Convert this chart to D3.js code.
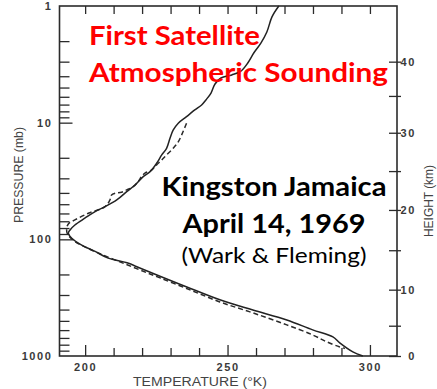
<!DOCTYPE html>
<html>
<head>
<meta charset="utf-8">
<script src="https://cdn.jsdelivr.net/npm/d3@7"></script>
<style>
	body { margin: 0; background: #fff; }
	svg { display: block; }
</style>
</head>
<body>
<svg id="body" width="437" height="389"></svg>
<script>
// radiosonde / rocket sounding (solid line), temperature in K vs pressure in mb
let obsTemp = [268.0, 265.6, 263.8, 261.7, 259.2, 257.1, 254.7, 251.5, 247.7, 245.6, 244.2, 242.4,
	240.9, 238.5, 235.6, 232.7, 230.9, 229.8, 228.6, 226.9, 225.1, 222.8, 220.4, 217.5, 214.6, 211.1,
	207.0, 203.5, 199.9, 196.4, 194.7, 194.1, 195.3, 198.8, 203.5, 208.1, 214.7, 219.2, 225.2, 235.7,
	247.3, 258.9, 270.8, 279.9, 287.0, 289.4, 294.0, 297.5]
let obsPres = [1.0, 1.24, 1.67, 2.08, 2.53, 3.08, 3.61, 3.90, 4.14, 4.66, 5.57, 6.39,
	7.05, 7.78, 8.88, 10.1, 11.6, 13.6, 16.6, 18.9, 22.3, 26.3, 29.0, 34.2, 39.0, 46.0,
	52.5, 57.9, 65.9, 75.3, 83.1, 88.7, 97.9, 112, 127, 145, 159, 176, 202, 256,
	330, 403, 491, 597, 686, 772, 922, 1000]

// satellite (SIRS) retrieval (dashed line)
let satTemp = [235.6, 234.4, 232.7, 230.9, 228.6, 226.9, 225.1, 223.4, 221.0, 219.8, 218.6, 216.9,
	214.6, 212.8, 210.5, 209.3, 208.7, 207.0, 201.1, 196.4, 194.1, 193.5, 193.8, 196.1, 199.9, 205.2,
	212.2, 219.2, 226.3, 236.8, 247.3, 258.9, 270.8, 279.9, 284.9, 289.4, 291.2]
let satPres = [10.1, 11.9, 14.6, 16.6, 18.9, 20.9, 23.0, 25.4, 27.1, 29.0, 32.0, 35.4,
	37.7, 39.5, 40.3, 41.6, 46.0, 52.5, 59.8, 68.2, 73.8, 81.4, 89.9, 103, 116, 133,
	156, 183, 214, 271, 344, 427, 541, 660, 757, 836, 861]

// axis ticks
let presTicks = [2, 3, 4, 5, 6, 7, 8, 9, 20, 30, 40, 50, 60, 70, 80, 90, 200, 300, 400, 500, 600, 700, 800, 900]
let presLabels = [1, 10, 100, 1000]
let tempTicks = [200, 210, 220, 230, 240, 250, 260, 270, 280, 290, 300]
let tempLabels = [200, 250, 300]
let heightKm = [0, 5, 10, 15, 20, 25, 30, 35, 40]
let heightPres = [1000, 550, 270, 124, 56, 26, 12.2, 5.9, 3.0]
let heightLabels = [0, 10, 20, 30, 40]

let svg = d3.select("#body")

//plot box
let plot = {left: 59.5, right: 397, top: 6, bottom: 356}

let xscale = d3.scaleLinear()
	.domain([191, 309.5])
	.range([plot.left, plot.right])

let yscale = d3.scaleLog()
	.domain([1, 1000])
	.range([plot.top, plot.bottom])

let inkColor = "#2b2b2b"
let labelFont = "'Liberation Sans', Arial, sans-serif"

function styleLabels(g) {
	g.selectAll(".tick text")
		.attr("font-family", labelFont)
		.attr("font-size", 11)
		.attr("font-weight", "bold")
		.attr("letter-spacing", 1.6)
		.attr("fill", "#3a3a3a")
}

//left axis minor ticks (inward)
svg.append("g")
	.attr("transform", "translate(" + plot.left + ",0)")
	.call(d3.axisRight(yscale).tickValues(presTicks).tickSize(10).tickFormat(""))
	.call(g => g.select(".domain").remove())
	.call(g => g.selectAll(".tick line").attr("stroke", inkColor).attr("stroke-width", 1.3))

//left axis major ticks and labels
svg.append("g")
	.attr("transform", "translate(" + plot.left + ",0)")
	.call(d3.axisLeft(yscale).tickValues(presLabels).tickSize(0).tickPadding(7).tickFormat(d3.format("d")))
	.call(g => g.select(".domain").remove())
	.call(styleLabels)

svg.append("g")
	.attr("transform", "translate(" + plot.left + ",0)")
	.call(d3.axisRight(yscale).tickValues([10, 100]).tickSize(13).tickFormat(""))
	.call(g => g.select(".domain").remove())
	.call(g => g.selectAll(".tick line").attr("stroke", inkColor).attr("stroke-width", 1.3))

//bottom axis ticks (inward)
svg.append("g")
	.attr("transform", "translate(0," + plot.bottom + ")")
	.call(d3.axisTop(xscale).tickValues(tempTicks).tickSize(8).tickFormat(""))
	.call(g => g.select(".domain").remove())
	.call(g => g.selectAll(".tick line")
		.attr("y2", d => tempLabels.includes(d) ? -11 : -8)
		.attr("stroke", inkColor).attr("stroke-width", 1.3))

//bottom axis labels
svg.append("g")
	.attr("transform", "translate(0," + plot.bottom + ")")
	.call(d3.axisBottom(xscale).tickValues(tempLabels).tickSize(0).tickPadding(7).tickFormat(d3.format("d")))
	.call(g => g.select(".domain").remove())
	.call(styleLabels)

//top axis ticks
svg.append("g")
	.attr("transform", "translate(0," + plot.top + ")")
	.call(d3.axisBottom(xscale).tickValues(tempTicks).tickSize(8).tickFormat(""))
	.call(g => g.select(".domain").remove())
	.call(g => g.selectAll(".tick line").attr("stroke", inkColor).attr("stroke-width", 1.3))

//right axis: height in km, placed at the matching pressures
svg.append("g")
	.attr("transform", "translate(" + plot.right + ",0)")
	.call(d3.axisLeft(yscale).tickValues(heightPres).tickSize(8).tickFormat(""))
	.call(g => g.select(".domain").remove())
	.call(g => g.selectAll(".tick line").attr("x1", 4).attr("stroke", inkColor).attr("stroke-width", 1.3))

let kmOf = p => heightKm[heightPres.indexOf(p)]

svg.append("g")
	.attr("transform", "translate(" + plot.right + ",0)")
	.call(d3.axisRight(yscale)
		.tickValues(heightPres.filter(p => heightLabels.includes(kmOf(p))))
		.tickSize(0).tickPadding(19)
		.tickFormat(kmOf))
	.call(g => g.select(".domain").remove())
	.call(styleLabels)
	.call(g => g.selectAll(".tick text").attr("text-anchor", "end"))

//frame
svg.append("rect")
	.attr("x", plot.left)
	.attr("y", plot.top)
	.attr("width", plot.right - plot.left)
	.attr("height", plot.bottom - plot.top)
	.attr("fill", "none")
	.attr("stroke", inkColor)
	.attr("stroke-width", 1.6)

//axis titles
svg.append("text")
	.attr("transform", "translate(23,175) rotate(-90)")
	.attr("text-anchor", "middle")
	.attr("font-family", labelFont)
	.attr("font-size", 13.5)
	.attr("textLength", 96)
	.attr("lengthAdjust", "spacingAndGlyphs")
	.attr("fill", "#444")
	.text("PRESSURE (mb)")

svg.append("text")
	.attr("transform", "translate(432.5,201) rotate(-90)")
	.attr("text-anchor", "middle")
	.attr("font-family", labelFont)
	.attr("font-size", 12.5)
	.attr("textLength", 72)
	.attr("lengthAdjust", "spacingAndGlyphs")
	.attr("fill", "#444")
	.text("HEIGHT (km)")

svg.append("text")
	.attr("x", 200)
	.attr("y", 385.5)
	.attr("text-anchor", "middle")
	.attr("font-family", labelFont)
	.attr("font-size", 12)
	.attr("textLength", 134)
	.attr("lengthAdjust", "spacingAndGlyphs")
	.attr("fill", "#444")
	.text("TEMPERATURE (\u00B0K)")

//profiles
let obsData = obsTemp.map((t, i) => ({temp: t, pres: obsPres[i]}))
let satData = satTemp.map((t, i) => ({temp: t, pres: satPres[i]}))

let profileLine = d3.line()
	.x(d => xscale(d.temp))
	.y(d => yscale(d.pres))
	.curve(d3.curveCatmullRom.alpha(0.5))

svg.append("path")
	.datum(satData)
	.attr("d", profileLine)
	.attr("fill", "none")
	.attr("stroke", "#2a2a2a")
	.attr("stroke-width", 1.5)
	.attr("stroke-dasharray", "5,3")

svg.append("path")
	.datum(obsData)
	.attr("d", profileLine)
	.attr("fill", "none")
	.attr("stroke", "#222")
	.attr("stroke-width", 1.5)

//overlay captions
let captionFont = "Lato, 'Open Sans', 'Noto Sans', sans-serif"

svg.append("text")
	.attr("x", 89).attr("y", 45)
	.attr("font-family", captionFont)
	.attr("font-weight", "bold")
	.attr("font-size", 27)
	.attr("textLength", 171)
	.attr("lengthAdjust", "spacingAndGlyphs")
	.attr("fill", "#ff0000")
	.text("First Satellite")

svg.append("text")
	.attr("x", 89).attr("y", 82)
	.attr("font-family", captionFont)
	.attr("font-weight", "bold")
	.attr("font-size", 27)
	.attr("textLength", 299)
	.attr("lengthAdjust", "spacingAndGlyphs")
	.attr("fill", "#ff0000")
	.text("Atmospheric Sounding")

svg.append("text")
	.attr("x", 274).attr("y", 196)
	.attr("text-anchor", "middle")
	.attr("font-family", captionFont)
	.attr("font-weight", "bold")
	.attr("font-size", 27)
	.attr("textLength", 225)
	.attr("lengthAdjust", "spacingAndGlyphs")
	.attr("fill", "#000")
	.text("Kingston Jamaica")

svg.append("text")
	.attr("x", 274).attr("y", 233)
	.attr("text-anchor", "middle")
	.attr("font-family", captionFont)
	.attr("font-weight", "bold")
	.attr("font-size", 27)
	.attr("textLength", 183)
	.attr("lengthAdjust", "spacingAndGlyphs")
	.attr("fill", "#000")
	.text("April 14, 1969")

svg.append("text")
	.attr("x", 274).attr("y", 263)
	.attr("text-anchor", "middle")
	.attr("font-family", captionFont)
	.attr("font-size", 22)
	.attr("textLength", 185)
	.attr("lengthAdjust", "spacingAndGlyphs")
	.attr("fill", "#000")
	.text("(Wark & Fleming)")
</script>
</body>
</html>
